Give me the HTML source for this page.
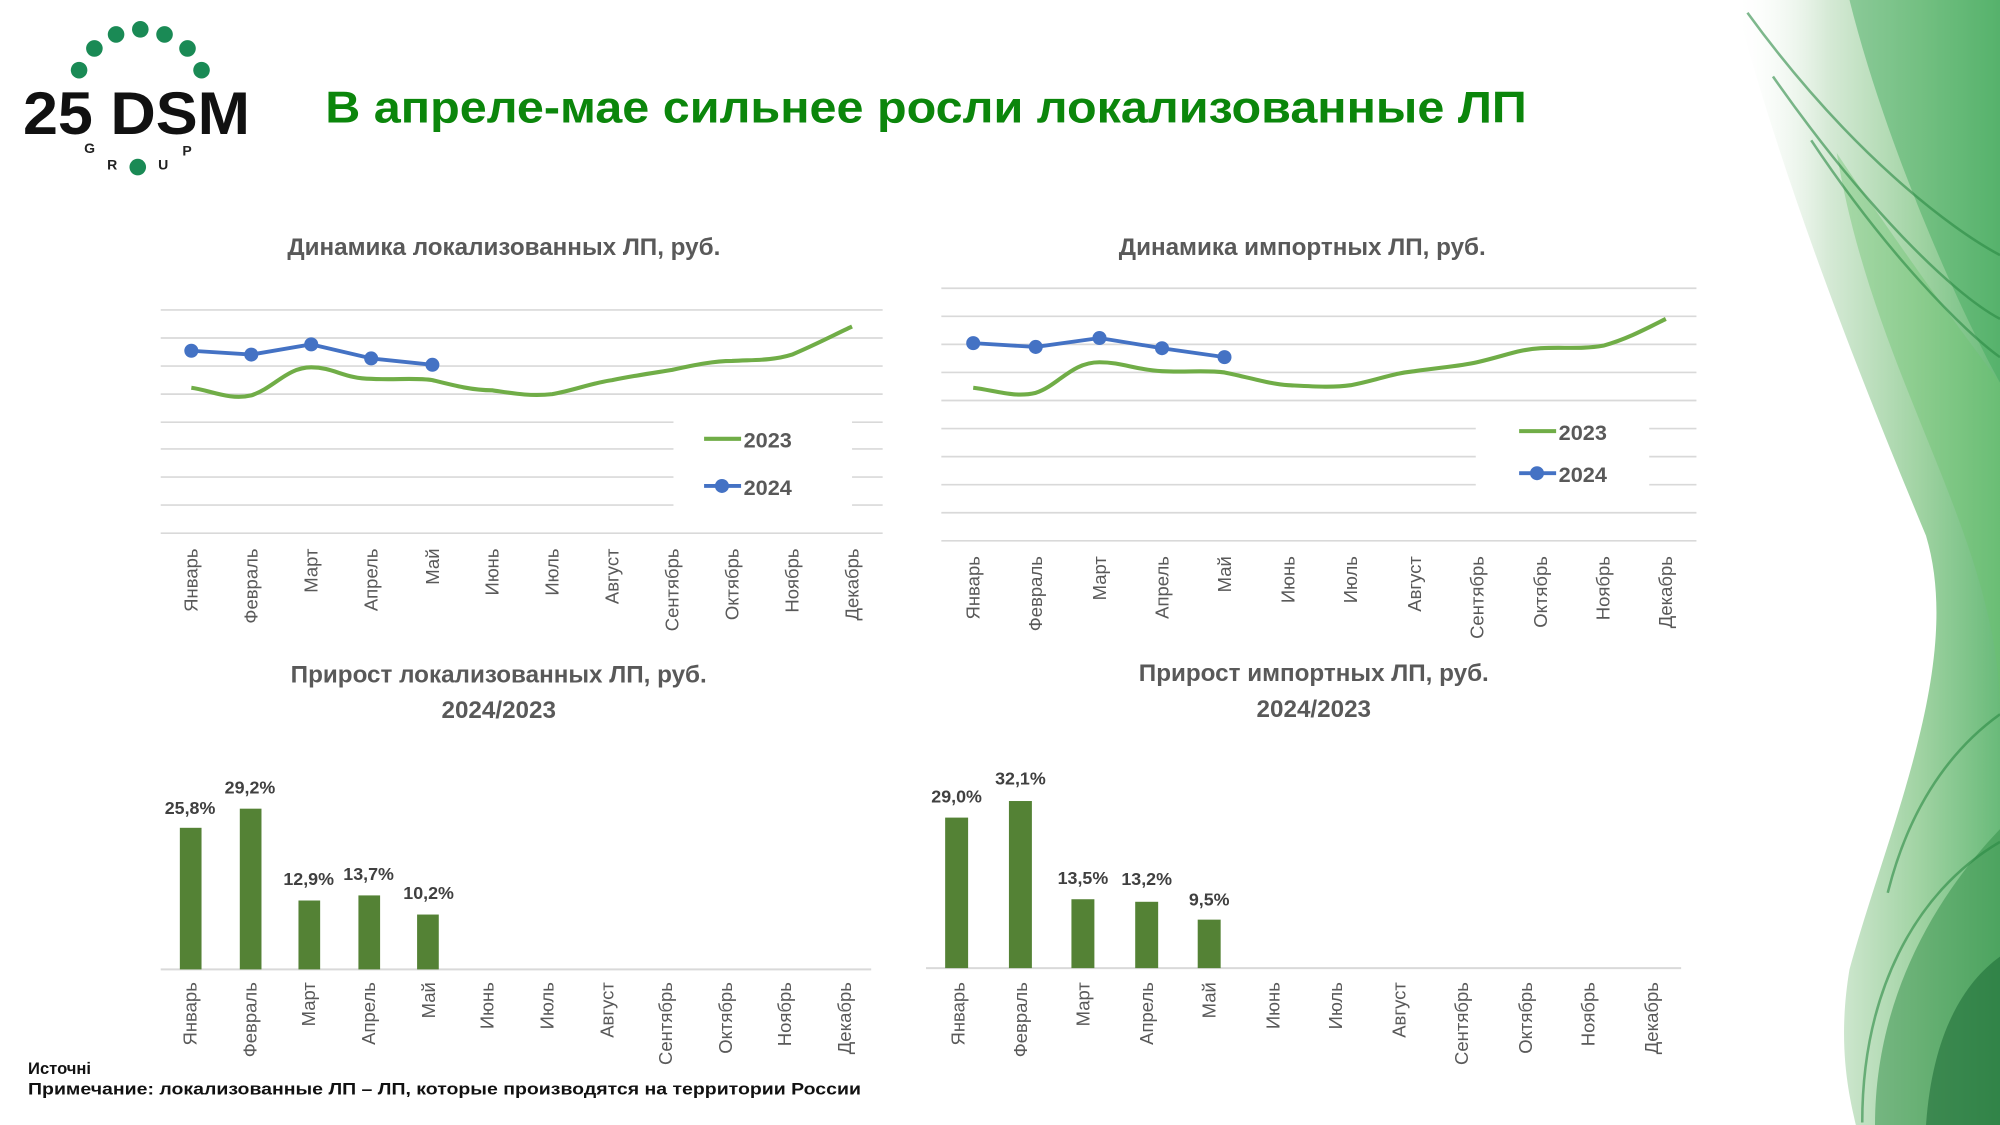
<!DOCTYPE html>
<html><head><meta charset="utf-8"><style>
html,body{margin:0;padding:0;background:#fff;}
svg{display:block;}
text{font-family:"Liberation Sans",sans-serif;}
</style></head><body>
<svg width="2000" height="1125" viewBox="0 0 1568 882" xmlns="http://www.w3.org/2000/svg">
<defs>
<linearGradient id="g1" x1="0" y1="0" x2="1" y2="0">
<stop offset="0" stop-color="#fff" stop-opacity="0"/>
<stop offset="0.35" stop-color="#cfe6cf"/>
<stop offset="0.7" stop-color="#8fcb92"/>
<stop offset="1" stop-color="#4fae62"/>
</linearGradient>
</defs>
<rect width="1568" height="882" fill="#fff"/>
<!-- right decoration -->
<path d="M1360 0 C1400 150 1460 300 1510 420 C1540 520 1480 650 1450 760 C1440 820 1450 860 1455 882 L1568 882 L1568 0 Z" fill="url(#g1)" opacity="0.85"/>
<path d="M1450 0 C1480 120 1540 250 1568 300 L1568 0 Z" fill="#3ea95a" opacity="0.45"/>
<path d="M1440 120 C1470 300 1568 420 1568 560 L1568 300 C1530 250 1480 180 1440 120Z" fill="#6cc26f" opacity="0.4"/>
<path d="M1470 882 C1470 780 1520 700 1568 650 L1568 882Z" fill="#2f8e46" opacity="0.5"/>
<path d="M1510 882 C1515 810 1540 770 1568 750 L1568 882Z" fill="#1b6a34" opacity="0.55"/>
<g fill="none" stroke="#2b8a44" stroke-width="2" opacity="0.6">
<path d="M1370 10 C1450 120 1530 180 1568 200"/>
<path d="M1390 60 C1460 160 1530 230 1568 250"/>
<path d="M1420 110 C1480 200 1540 260 1568 280"/>
<path d="M1480 700 C1500 620 1540 580 1568 560"/>
<path d="M1460 880 C1460 780 1500 700 1568 660"/>
</g>
<!-- logo -->
<g fill="#1a8a55">
<circle cx="62" cy="55" r="6.5"/><circle cx="74" cy="38" r="6.5"/><circle cx="91" cy="27" r="6.5"/><circle cx="110" cy="23" r="6.5"/><circle cx="129" cy="27" r="6.5"/><circle cx="147" cy="38" r="6.5"/><circle cx="158" cy="55" r="6.5"/><circle cx="108" cy="131" r="6.5"/>
</g>
<text x="18" y="105" font-size="47" font-weight="bold" fill="#111" textLength="178" lengthAdjust="spacingAndGlyphs">25 DSM</text>
<text x="66" y="120" font-size="11" font-weight="bold" fill="#222">G</text>
<text x="84" y="133" font-size="11" font-weight="bold" fill="#222">R</text>
<text x="124" y="133" font-size="11" font-weight="bold" fill="#222">U</text>
<text x="143" y="122" font-size="11" font-weight="bold" fill="#222">P</text>
<!-- title -->
<text x="255" y="96" font-size="35" font-weight="bold" fill="#0b860b" textLength="942" lengthAdjust="spacingAndGlyphs">В апреле-мае сильнее росли локализованные ЛП</text>
<!-- chart titles -->
<g font-size="19" font-weight="bold" fill="#595959" text-anchor="middle">
<text x="395" y="200">Динамика локализованных ЛП, руб.</text>
<text x="1021" y="200">Динамика импортных ЛП, руб.</text>
<text x="391" y="535">Прирост локализованных ЛП, руб.</text>
<text x="391" y="563">2024/2023</text>
<text x="1030" y="534">Прирост импортных ЛП, руб.</text>
<text x="1030" y="562">2024/2023</text>
</g>
<!-- left line chart grid -->
<g stroke="#d9d9d9" stroke-width="1.3">
<line x1="126" x2="692" y1="243" y2="243"/><line x1="126" x2="692" y1="265" y2="265"/><line x1="126" x2="692" y1="287" y2="287"/><line x1="126" x2="692" y1="309" y2="309"/><line x1="126" x2="692" y1="331" y2="331"/><line x1="126" x2="692" y1="352" y2="352"/><line x1="126" x2="692" y1="374" y2="374"/><line x1="126" x2="692" y1="396" y2="396"/><line x1="126" x2="692" y1="418" y2="418"/>
</g>
<rect x="528" y="322" width="140" height="78" fill="#fff"/>
<path d="M150 304 C165 306 180 314 197 310 C215 304 225 288 244 288 C262 288 270 297 291 297 C310 298 325 296 339 298 C355 302 370 306 386 306 C400 308 415 311 433 309 C450 306 465 300 480 298 C500 294 515 292 527 290 C545 286 560 283 574 283 C590 282 605 283 621 278 C640 270 655 262 668 256" fill="none" stroke="#70ad47" stroke-width="3.2"/>
<path d="M150 275 L197 278 L244 270 L291 281 L339 286" fill="none" stroke="#4472c4" stroke-width="3"/>
<g fill="#4472c4"><circle cx="150" cy="275" r="5.5"/><circle cx="197" cy="278" r="5.5"/><circle cx="244" cy="270" r="5.5"/><circle cx="291" cy="281" r="5.5"/><circle cx="339" cy="286" r="5.5"/></g>
<line x1="552" x2="581" y1="344" y2="344" stroke="#70ad47" stroke-width="3.2"/>
<text x="583" y="351" font-size="17" font-weight="bold" fill="#595959">2023</text>
<line x1="552" x2="581" y1="381" y2="381" stroke="#4472c4" stroke-width="3"/><circle cx="566" cy="381" r="5.5" fill="#4472c4"/>
<text x="583" y="388" font-size="17" font-weight="bold" fill="#595959">2024</text>
<!-- right line chart grid -->
<g stroke="#d9d9d9" stroke-width="1.3">
<line x1="738" x2="1330" y1="226" y2="226"/><line x1="738" x2="1330" y1="248" y2="248"/><line x1="738" x2="1330" y1="270" y2="270"/><line x1="738" x2="1330" y1="292" y2="292"/><line x1="738" x2="1330" y1="314" y2="314"/><line x1="738" x2="1330" y1="336" y2="336"/><line x1="738" x2="1330" y1="358" y2="358"/><line x1="738" x2="1330" y1="380" y2="380"/><line x1="738" x2="1330" y1="402" y2="402"/><line x1="738" x2="1330" y1="424" y2="424"/>
</g>
<rect x="1157" y="320" width="136" height="70" fill="#fff"/>
<path d="M763 304 C780 306 795 312 812 308 C830 302 840 284 862 284 C880 284 890 290 911 291 C930 292 945 290 960 292 C980 296 995 301 1010 302 C1030 303 1045 304 1059 302 C1080 298 1090 293 1109 291 C1130 288 1145 287 1158 284 C1180 279 1190 274 1208 273 C1225 272 1240 274 1257 271 C1275 266 1290 258 1306 250" fill="none" stroke="#70ad47" stroke-width="3.2"/>
<path d="M763 269 L812 272 L862 265 L911 273 L960 280" fill="none" stroke="#4472c4" stroke-width="3"/>
<g fill="#4472c4"><circle cx="763" cy="269" r="5.5"/><circle cx="812" cy="272" r="5.5"/><circle cx="862" cy="265" r="5.5"/><circle cx="911" cy="273" r="5.5"/><circle cx="960" cy="280" r="5.5"/></g>
<line x1="1191" x2="1220" y1="338" y2="338" stroke="#70ad47" stroke-width="3.2"/>
<text x="1222" y="345" font-size="17" font-weight="bold" fill="#595959">2023</text>
<line x1="1191" x2="1220" y1="371" y2="371" stroke="#4472c4" stroke-width="3"/><circle cx="1205" cy="371" r="5.5" fill="#4472c4"/>
<text x="1222" y="378" font-size="17" font-weight="bold" fill="#595959">2024</text>
<!-- month labels -->
<g font-size="14.5" fill="#595959" text-anchor="end">
<text transform="translate(155 430) rotate(-90)">Январь</text>
<text transform="translate(202 430) rotate(-90)">Февраль</text>
<text transform="translate(249 430) rotate(-90)">Март</text>
<text transform="translate(296 430) rotate(-90)">Апрель</text>
<text transform="translate(344 430) rotate(-90)">Май</text>
<text transform="translate(391 430) rotate(-90)">Июнь</text>
<text transform="translate(438 430) rotate(-90)">Июль</text>
<text transform="translate(485 430) rotate(-90)">Август</text>
<text transform="translate(532 430) rotate(-90)">Сентябрь</text>
<text transform="translate(579 430) rotate(-90)">Октябрь</text>
<text transform="translate(626 430) rotate(-90)">Ноябрь</text>
<text transform="translate(673 430) rotate(-90)">Декабрь</text>

<text transform="translate(768 436) rotate(-90)">Январь</text>
<text transform="translate(817 436) rotate(-90)">Февраль</text>
<text transform="translate(867 436) rotate(-90)">Март</text>
<text transform="translate(916 436) rotate(-90)">Апрель</text>
<text transform="translate(965 436) rotate(-90)">Май</text>
<text transform="translate(1015 436) rotate(-90)">Июнь</text>
<text transform="translate(1064 436) rotate(-90)">Июль</text>
<text transform="translate(1114 436) rotate(-90)">Август</text>
<text transform="translate(1163 436) rotate(-90)">Сентябрь</text>
<text transform="translate(1213 436) rotate(-90)">Октябрь</text>
<text transform="translate(1262 436) rotate(-90)">Ноябрь</text>
<text transform="translate(1311 436) rotate(-90)">Декабрь</text>

<text transform="translate(154 770) rotate(-90)">Январь</text>
<text transform="translate(201 770) rotate(-90)">Февраль</text>
<text transform="translate(247 770) rotate(-90)">Март</text>
<text transform="translate(294 770) rotate(-90)">Апрель</text>
<text transform="translate(341 770) rotate(-90)">Май</text>
<text transform="translate(387 770) rotate(-90)">Июнь</text>
<text transform="translate(434 770) rotate(-90)">Июль</text>
<text transform="translate(481 770) rotate(-90)">Август</text>
<text transform="translate(527 770) rotate(-90)">Сентябрь</text>
<text transform="translate(574 770) rotate(-90)">Октябрь</text>
<text transform="translate(620 770) rotate(-90)">Ноябрь</text>
<text transform="translate(667 770) rotate(-90)">Декабрь</text>

<text transform="translate(756 770) rotate(-90)">Январь</text>
<text transform="translate(805 770) rotate(-90)">Февраль</text>
<text transform="translate(854 770) rotate(-90)">Март</text>
<text transform="translate(904 770) rotate(-90)">Апрель</text>
<text transform="translate(953 770) rotate(-90)">Май</text>
<text transform="translate(1003 770) rotate(-90)">Июнь</text>
<text transform="translate(1052 770) rotate(-90)">Июль</text>
<text transform="translate(1102 770) rotate(-90)">Август</text>
<text transform="translate(1151 770) rotate(-90)">Сентябрь</text>
<text transform="translate(1201 770) rotate(-90)">Октябрь</text>
<text transform="translate(1250 770) rotate(-90)">Ноябрь</text>
<text transform="translate(1300 770) rotate(-90)">Декабрь</text>
</g>
<!-- bars left -->
<line x1="126" x2="683" y1="760" y2="760" stroke="#d9d9d9" stroke-width="1.5"/>
<g fill="#548235">
<rect x="141" y="649" width="17" height="111"/><rect x="188" y="634" width="17" height="126"/><rect x="234" y="706" width="17" height="54"/><rect x="281" y="702" width="17" height="58"/><rect x="327" y="717" width="17" height="43"/>
</g>
<g font-size="14" font-weight="bold" fill="#404040" text-anchor="middle">
<text x="149" y="638">25,8%</text><text x="196" y="622">29,2%</text><text x="242" y="694">12,9%</text><text x="289" y="690">13,7%</text><text x="336" y="705">10,2%</text>
</g>
<!-- bars right -->
<line x1="726" x2="1318" y1="759" y2="759" stroke="#d9d9d9" stroke-width="1.5"/>
<g fill="#548235">
<rect x="741" y="641" width="18" height="118"/><rect x="791" y="628" width="18" height="131"/><rect x="840" y="705" width="18" height="54"/><rect x="890" y="707" width="18" height="52"/><rect x="939" y="721" width="18" height="38"/>
</g>
<g font-size="14" font-weight="bold" fill="#404040" text-anchor="middle">
<text x="750" y="629">29,0%</text><text x="800" y="615">32,1%</text><text x="849" y="693">13,5%</text><text x="899" y="694">13,2%</text><text x="948" y="710">9,5%</text>
</g>
<!-- footer -->
<text x="22" y="842" font-size="13" font-weight="bold" fill="#111">Источні</text>
<text x="22" y="858" font-size="13" font-weight="bold" fill="#111" textLength="653" lengthAdjust="spacingAndGlyphs">Примечание: локализованные ЛП – ЛП, которые производятся на территории России</text>
</svg>
</body></html>
